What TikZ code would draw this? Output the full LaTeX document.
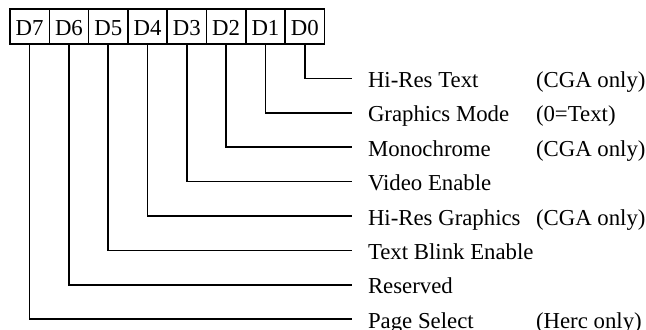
\documentclass[tikz,border=0pt]{standalone}
\usepackage{fontspec}
\setmainfont{Liberation Serif}
\usetikzlibrary{positioning}
\tikzset{
  bitbox/.style={draw, line width=0.8pt, minimum width=19.65pt, minimum height=17.3pt, inner sep=0pt, outer sep=0pt, text height=9.3pt, text depth=0pt},
  bitlabel/.style={anchor=west, inner xsep=7.8pt, inner ysep=0pt, text height=9pt, text depth=0pt},
  wire/.style={line width=0.8pt}
}
\begin{document}
\begin{tikzpicture}[x=0.5pt, y=-0.5pt, font=\fontsize{11.4}{13.7}\selectfont]
  \useasboundingbox (0,0) rectangle (646,330);

  % register bits
  \node[bitbox, anchor=north west] (b7) at (10,9.3) {D7};
  \foreach \i/\j in {6/7,5/6,4/5,3/4,2/3,1/2,0/1} {
    \node[bitbox, right=0pt of b\j] (b\i) {D\i};
  }

  % bit meanings
  \foreach \i/\name/\note in {0/Hi-Res Text/(CGA only), 1/Graphics Mode/(0=Text),
      2/Monochrome/(CGA only), 3/Video Enable/{}, 4/Hi-Res Graphics/(CGA only),
      5/Text Blink Enable/{}, 6/Reserved/{}, 7/Page Select/(Herc only)} {
    \node[bitlabel] (l\i) at (352, 78.5+34.4*\i) {\makebox[84pt][l]{\name}\note};
    \draw[wire] (b\i.south) |- (l\i.west);
  }
\end{tikzpicture}
\end{document}
